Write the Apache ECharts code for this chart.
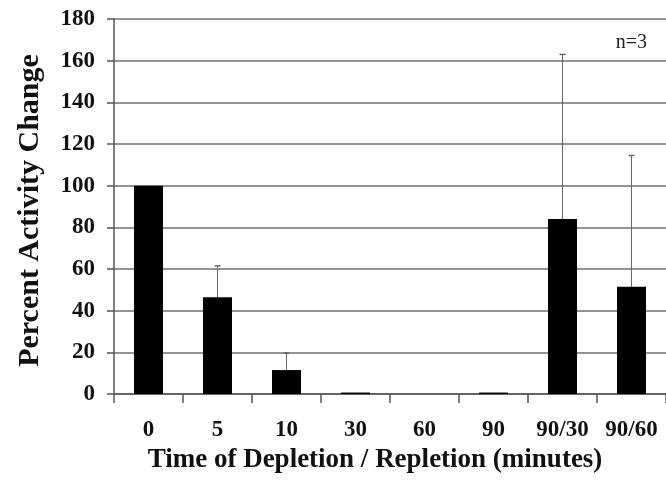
<!DOCTYPE html>
<html>
<head>
<meta charset="utf-8">
<script src="https://cdn.jsdelivr.net/npm/echarts@6/dist/echarts.min.js"></script>
<style>html,body{margin:0;padding:0;background:#fff;}#c{width:666px;height:483px;}</style>
</head>
<body>
<div id="c"></div>
<script>
const categories = ['0', '5', '10', '30', '60', '90', '90/30', '90/60'];
const values = [100, 46.5, 11.5, 0.7, 0, 0.7, 84, 51.5];
const errors = [0, 15, 8.2, 0, 0, 0, 79, 63];
const yTicks = [0, 20, 40, 60, 80, 100, 120, 140, 160, 180];

const FONT = '"Liberation Serif", "Times New Roman", serif';
const chart = echarts.init(document.getElementById('c'), null, {renderer: 'canvas'});

const errData = values.map((v, i) => [i, v, errors[i]]);

chart.setOption({
  animation: false,
  backgroundColor: '#fff',
  grid: {left: 114, right: 0, top: 19, bottom: 89, containLabel: false},
  xAxis: {
    type: 'category',
    data: categories,
    name: 'Time of Depletion / Repletion (minutes)',
    nameLocation: 'middle',
    nameGap: 52,
    nameTextStyle: {fontFamily: FONT, fontWeight: 'bold', fontSize: 27, color: '#111', padding: [0, 30, 0, 0]},
    axisLine: {show: true, lineStyle: {color: '#555', width: 1.5}},
    axisTick: {show: true, alignWithLabel: false, length: 9, lineStyle: {color: '#555', width: 1.5}},
    axisLabel: {fontFamily: FONT, fontWeight: 'bold', fontSize: 23, color: '#111', margin: 25, interval: 0},
    splitLine: {show: false}
  },
  yAxis: {
    type: 'value',
    min: yTicks[0],
    max: yTicks[yTicks.length - 1],
    interval: 20,
    name: 'Percent Activity Change',
    nameLocation: 'middle',
    nameGap: 69,
    nameRotate: 90,
    nameTextStyle: {fontFamily: FONT, fontWeight: 'bold', fontSize: 30, color: '#111', padding: [0, 8, 0, 0]},
    axisLine: {show: true, lineStyle: {color: '#555', width: 1.5}},
    axisTick: {show: true, length: 7, lineStyle: {color: '#555', width: 1.5}},
    axisLabel: {fontFamily: FONT, fontWeight: 'bold', fontSize: 23, color: '#111', margin: 19},
    splitLine: {show: true, lineStyle: {color: '#6f6f6f', width: 1.5}}
  },
  graphic: [{
    type: 'text',
    right: 19,
    top: 33,
    style: {text: 'n=3', font: '20px ' + FONT, fill: '#222'}
  }],
  series: [
    {
      type: 'bar',
      data: values,
      barWidth: 29,
      itemStyle: {color: '#000'},
      z: 2
    },
    {
      type: 'custom',
      data: errData,
      z: 3,
      renderItem: function (params, api) {
        const idx = api.value(0);
        const v = api.value(1);
        const e = api.value(2);
        if (!e) return null;
        const base = api.coord([idx, v]);
        const top = api.coord([idx, v + e]);
        return {
          type: 'group',
          children: [
            {type: 'line', shape: {x1: base[0], y1: base[1], x2: top[0], y2: top[1]}, style: {stroke: '#666', lineWidth: 1}},
            {type: 'line', shape: {x1: top[0] - 3, y1: top[1], x2: top[0] + 3, y2: top[1]}, style: {stroke: '#666', lineWidth: 1.5}}
          ]
        };
      }
    }
  ]
});
</script>
</body>
</html>
